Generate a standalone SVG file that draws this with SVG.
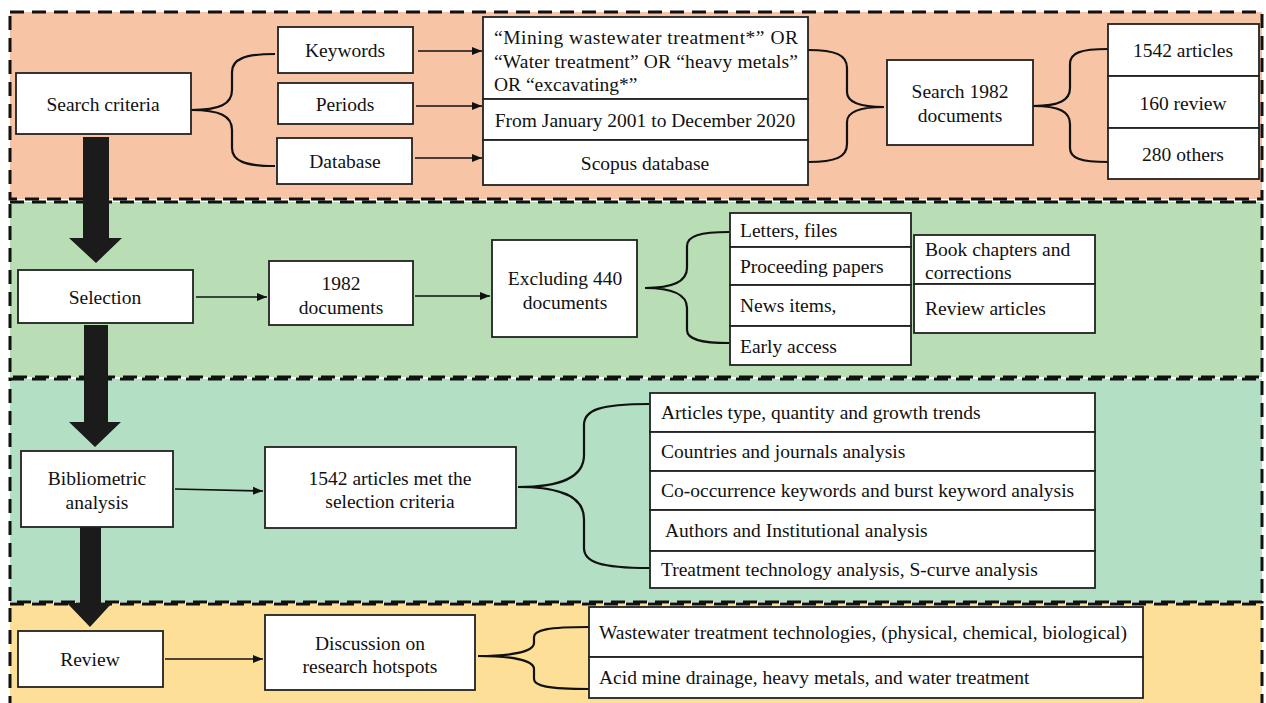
<svg xmlns="http://www.w3.org/2000/svg" width="1266" height="703" viewBox="0 0 1266 703">
<defs>
<marker id="ah" viewBox="0 0 10 10" refX="10" refY="5" markerWidth="10" markerHeight="10" markerUnits="userSpaceOnUse" orient="auto"><path d="M0,1 L10,5 L0,9 z" fill="#111"/></marker>
<style>
.sec{stroke:#111;stroke-width:3;stroke-dasharray:14 8}
.box{fill:#fff;stroke:#222;stroke-width:1.8}
.t{font-family:"Liberation Serif","Times New Roman",serif;font-size:19.5px;fill:#111}
.c{text-anchor:middle}
.ln{fill:none;stroke:#111;stroke-width:1.6}
.br{fill:none;stroke:#111;stroke-width:2.2}
.big{fill:#1b1b1b}
</style>
</defs>
<rect x="0" y="0" width="1266" height="703" fill="#fff"/>
<g id="sections">
<rect class="sec" x="10" y="12" width="1252" height="187" fill="#F7C4A5"/>
<rect class="sec" x="10" y="202" width="1252" height="175" fill="#B9DDB5"/>
<rect class="sec" x="10" y="379" width="1252" height="223" fill="#B3DFC5"/>
<rect class="sec" x="10" y="604" width="1252" height="110" fill="#FDDF98"/>
</g>
<g id="connectors">
<polygon class="big" points="83,137 109,137 109,238 122,238 96,263 69,238 83,238"/>
<polygon class="big" points="84,325 108,325 108,422 121,422 95,447 69,422 84,422"/>
<polygon class="big" points="80,527 101,527 101,603 112,603 90,627 67,603 80,603"/>
<line class="ln" x1="418" y1="51" x2="482" y2="51" marker-end="url(#ah)"/>
<line class="ln" x1="416" y1="106" x2="482" y2="106" marker-end="url(#ah)"/>
<line class="ln" x1="415" y1="158" x2="482" y2="158" marker-end="url(#ah)"/>
<line class="ln" x1="196" y1="297" x2="267" y2="297" marker-end="url(#ah)"/>
<line class="ln" x1="415" y1="296" x2="490" y2="296" marker-end="url(#ah)"/>
<line class="ln" x1="175" y1="489" x2="263" y2="491" marker-end="url(#ah)"/>
<line class="ln" x1="165" y1="659" x2="263" y2="659" marker-end="url(#ah)"/>
<path class="br" d="M191,110 C220,110 232,104 232,90 L232,72 C232,59 245,54 275,54 M191,110 C220,110 232,116 232,130 L232,148 C232,161 245,166 275,166"/>
<path class="br" d="M808,50 C836,50 847,55 847,68 L847,92 C847,102 858,107 884,107 M808,162 C836,162 847,157 847,144 L847,122 C847,112 858,107 884,107"/>
<path class="br" d="M1033,106 C1060,106 1070,100 1070,88 L1070,64 C1070,53 1080,49 1108,49 M1033,106 C1060,106 1070,112 1070,124 L1070,148 C1070,158 1080,162 1108,162"/>
<path class="br" d="M645,288 C672,288 687,282 687,268 L687,246 C687,236 700,232 729,232 M645,288 C672,288 687,294 687,308 L687,330 C687,339 700,343 729,343"/>
<path class="br" d="M518,487 C560,487 584,478 584,455 L584,425 C584,410 600,404 649,404 M518,487 C560,487 584,496 584,519 L584,548 C584,562 600,568 649,568"/>
<path class="br" d="M478,656 C510,656 534,652 534,643 L534,637 C534,630 548,627 589,627 M478,656 C510,656 534,660 534,669 L534,679 C534,686 548,689 589,689"/>
</g>
<g id="search-criteria"><rect class="box" x="16" y="73" width="175" height="61"/><text class="t c" x="103" y="111">Search criteria</text></g>
<g id="keywords"><rect class="box" x="278" y="27" width="135" height="46"/><text class="t c" x="345" y="57">Keywords</text></g>
<g id="periods"><rect class="box" x="278" y="83" width="135" height="41"/><text class="t c" x="345" y="111">Periods</text></g>
<g id="database"><rect class="box" x="277" y="138" width="135" height="46"/><text class="t c" x="345" y="168">Database</text></g>
<g id="query">
<rect class="box" x="483" y="17" width="325" height="82"/>
<text class="t" x="494" y="44" textLength="304" lengthAdjust="spacing">“Mining wastewater treatment*” OR</text>
<text class="t" x="494" y="68" textLength="304" lengthAdjust="spacing">“Water treatment” OR “heavy metals”</text>
<text class="t" x="494" y="91">OR “excavating*”</text>
</g>
<g id="period-range"><rect class="box" x="483" y="99" width="325" height="41"/><text class="t c" x="645" y="127">From January 2001 to December 2020</text></g>
<g id="scopus"><rect class="box" x="483" y="140" width="325" height="45"/><text class="t c" x="645" y="170">Scopus database</text></g>
<g id="search-1982"><rect class="box" x="887" y="60" width="146" height="85"/><text class="t c" x="960" y="98">Search 1982</text><text class="t c" x="960" y="122">documents</text></g>
<g id="articles-1542"><rect class="box" x="1108" y="24" width="151" height="52"/><text class="t c" x="1183" y="57">1542 articles</text></g>
<g id="review-160"><rect class="box" x="1108" y="76" width="151" height="52"/><text class="t c" x="1183" y="110">160 review</text></g>
<g id="others-280"><rect class="box" x="1108" y="128" width="151" height="51"/><text class="t c" x="1183" y="161">280 others</text></g>
<g id="selection"><rect class="box" x="18" y="270" width="175" height="53"/><text class="t c" x="105" y="304">Selection</text></g>
<g id="docs-1982"><rect class="box" x="269" y="261" width="144" height="64"/><text class="t c" x="341" y="290">1982</text><text class="t c" x="341" y="314">documents</text></g>
<g id="excluding"><rect class="box" x="492" y="240" width="145" height="97"/><text class="t c" x="565" y="285">Excluding 440</text><text class="t c" x="565" y="309">documents</text></g>
<g id="letters"><rect class="box" x="730" y="213" width="181" height="34"/><text class="t" x="740" y="237">Letters, files</text></g>
<g id="proceeding"><rect class="box" x="730" y="247" width="181" height="38"/><text class="t" x="740" y="273">Proceeding papers</text></g>
<g id="news"><rect class="box" x="730" y="285" width="181" height="41"/><text class="t" x="740" y="312">News items,</text></g>
<g id="early"><rect class="box" x="730" y="326" width="181" height="39"/><text class="t" x="740" y="353">Early access</text></g>
<g id="book"><rect class="box" x="914" y="235" width="181" height="49"/><text class="t" x="925" y="256">Book chapters and</text><text class="t" x="925" y="279">corrections</text></g>
<g id="review-articles"><rect class="box" x="914" y="284" width="181" height="49"/><text class="t" x="925" y="315">Review articles</text></g>
<g id="bibliometric"><rect class="box" x="21" y="451" width="152" height="76"/><text class="t c" x="97" y="485">Bibliometric</text><text class="t c" x="97" y="509">analysis</text></g>
<g id="met-criteria"><rect class="box" x="265" y="447" width="251" height="81"/><text class="t c" x="390" y="485">1542 articles met the</text><text class="t c" x="390" y="508">selection criteria</text></g>
<g id="a1"><rect class="box" x="650" y="393" width="445" height="39"/><text class="t" x="661" y="419">Articles type, quantity and growth trends</text></g>
<g id="a2"><rect class="box" x="650" y="432" width="445" height="39"/><text class="t" x="661" y="458">Countries and journals analysis</text></g>
<g id="a3"><rect class="box" x="650" y="471" width="445" height="39"/><text class="t" x="661" y="497">Co-occurrence keywords and burst keyword analysis</text></g>
<g id="a4"><rect class="box" x="650" y="510" width="445" height="41"/><text class="t" x="665" y="537">Authors and Institutional analysis</text></g>
<g id="a5"><rect class="box" x="650" y="551" width="445" height="37"/><text class="t" x="661" y="576">Treatment technology analysis, S-curve analysis</text></g>
<g id="review"><rect class="box" x="18" y="631" width="145" height="56"/><text class="t c" x="90" y="666">Review</text></g>
<g id="discussion"><rect class="box" x="265" y="615" width="210" height="75"/><text class="t c" x="370" y="650">Discussion on</text><text class="t c" x="370" y="673">research hotspots</text></g>
<g id="wastewater"><rect class="box" x="589" y="607" width="554" height="50"/><text class="t" x="599" y="639">Wastewater treatment technologies, (physical, chemical, biological)</text></g>
<g id="acid"><rect class="box" x="589" y="657" width="554" height="41"/><text class="t" x="599" y="684">Acid mine drainage, heavy metals, and water treatment</text></g>
</svg>
